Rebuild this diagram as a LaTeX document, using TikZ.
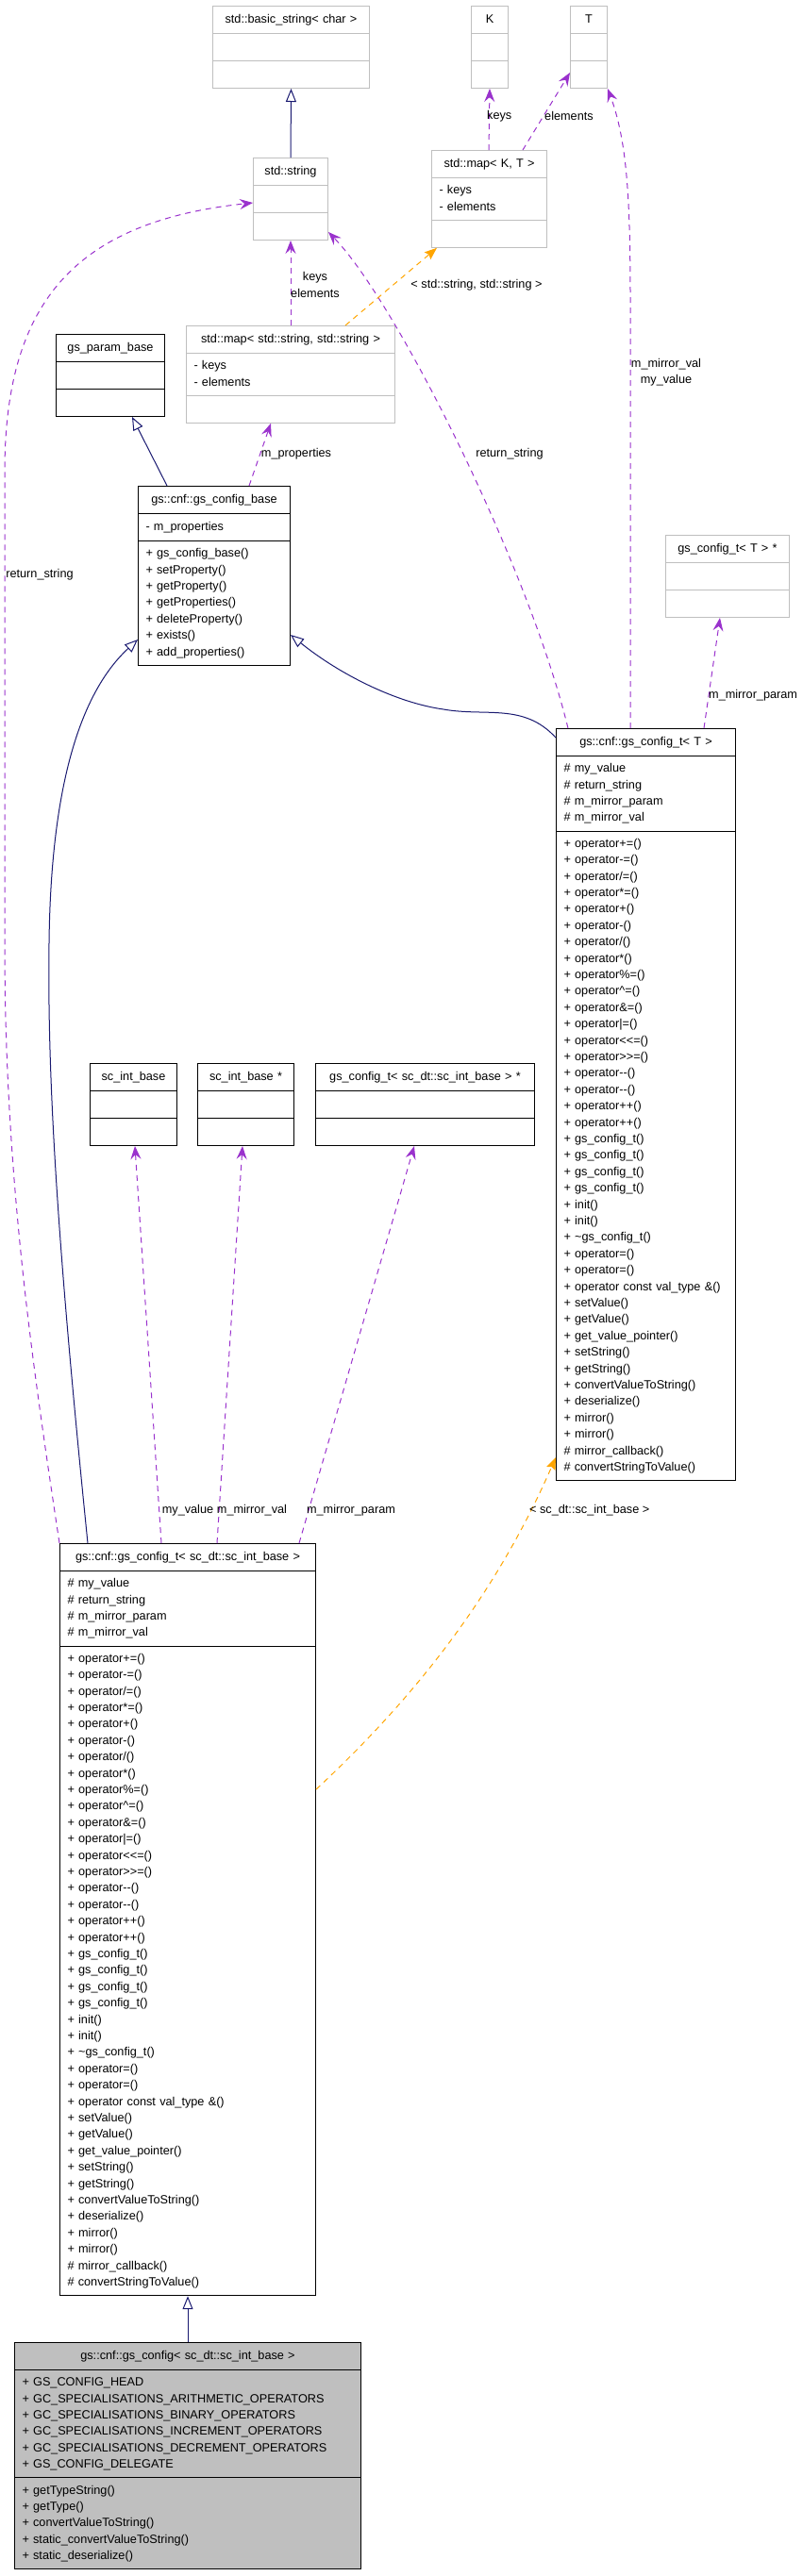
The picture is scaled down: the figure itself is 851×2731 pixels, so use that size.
\documentclass[tikz,border=0pt]{standalone}
\usepackage{fontspec}
\setmainfont{Liberation Sans}
\usetikzlibrary{arrows.meta, shapes.multipart}
\setlength\parindent{0pt}
\definecolor{clsLine}{HTML}{000000}
\definecolor{clsGray}{HTML}{BFBFBF}
\definecolor{clsFill}{HTML}{BFBFBF}
\definecolor{clsBlue}{HTML}{191970}
\definecolor{clsPurple}{HTML}{9A32CD}
\definecolor{clsOrange}{HTML}{FFA500}
\newcommand\clsfont{\fontsize{12.7}{17.4}\selectfont}
\newcommand\ctitle[1]{\makebox[\hsize][c]{\rule[-6.2pt]{0pt}{19pt}#1}}
\newcommand\cempty{\rule{0pt}{19pt}}
% Gemeinsame Member-Liste beider gs_config_t-Klassen.
\newcommand\gsConfigTAttrs{\strut\# my\_value\\
\# return\_string\\
\# m\_mirror\_param\\
\# m\_mirror\_val\strut}
\newcommand\gsConfigTMethods{\strut + operator+=()\\
+ operator-=()\\
+ operator/=()\\
+ operator*=()\\
+ operator+()\\
+ operator-()\\
+ operator/()\\
+ operator*()\\
+ operator\%=()\\
+ operator\textasciicircum=()\\
+ operator\&=()\\
+ operator|=()\\
+ operator<{}<=()\\
+ operator>{}>=()\\
+ operator-{}-()\\
+ operator-{}-()\\
+ operator++()\\
+ operator++()\\
+ gs\_config\_t()\\
+ gs\_config\_t()\\
+ gs\_config\_t()\\
+ gs\_config\_t()\\
+ init()\\
+ init()\\
+ \textasciitilde gs\_config\_t()\\
+ operator=()\\
+ operator=()\\
+ operator const val\_type \&()\\
+ setValue()\\
+ getValue()\\
+ get\_value\_pointer()\\
+ setString()\\
+ getString()\\
+ convertValueToString()\\
+ deserialize()\\
+ mirror()\\
+ mirror()\\
\# mirror\_callback()\\
\# convertStringToValue()\strut}
\tikzset{
  clsfig/.style={
    every node/.append style={font=\clsfont},
    x=1pt, y=-1pt,
  },
  cls/.style={
    rectangle split, rectangle split parts=3, draw=clsLine, line width=1pt,
    fill=white, anchor=north west, align=left, text width=#1,
    inner xsep=8pt, inner ysep=4.5pt,
  },
  % Klassen ohne Dokumentation: hellgrau umrandet.
  extcls/.style={draw=clsGray},
  curcls/.style={fill=clsFill},
  inherit/.style={draw=clsBlue, line width=1pt, -{Triangle[open, length=14pt, width=11pt]}},
  member/.style={draw=clsPurple, line width=1pt, dash pattern=on 6pt off 5pt,
    -{Stealth[length=14pt, width=11pt, inset=5pt]}},
  tmpl/.style={draw=clsOrange, line width=1pt, dash pattern=on 6pt off 5pt,
    -{Stealth[length=13pt, width=10pt, inset=2pt]}},
  edgelabel/.style={inner sep=0pt, align=center},
}
\begin{document}
\begin{tikzpicture}[clsfig]
  \useasboundingbox (0,0) rectangle (851,2731);
  \node[cls=150pt, extcls] (BasicString) at (225,6) {\ctitle{std::basic\_string< char >}\nodepart{two}\cempty\nodepart{three}\cempty};
  \node[cls=23pt, extcls] (KParam) at (499,6) {\ctitle{K}\nodepart{two}\cempty\nodepart{three}\cempty};
  \node[cls=23pt, extcls] (TParam) at (604,6) {\ctitle{T}\nodepart{two}\cempty\nodepart{three}\cempty};
  \node[cls=63pt, extcls] (StdString) at (268,167) {\ctitle{std::string}\nodepart{two}\cempty\nodepart{three}\cempty};
  \node[cls=106pt, extcls] (MapKT) at (457,159) {\ctitle{std::map< K, T >}\nodepart{two}\strut- keys\\- elements\strut\nodepart{three}\cempty};
  \node[cls=99pt] (GsParamBase) at (59,354) {\ctitle{gs\_param\_base}\nodepart{two}\cempty\nodepart{three}\cempty};
  \node[cls=205pt, extcls] (MapStrStr) at (197,345) {\ctitle{std::map< std::string, std::string >}\nodepart{two}\strut- keys\\- elements\strut\nodepart{three}\cempty};
  \node[cls=145pt] (GsConfigBase) at (146,515) {\ctitle{gs::cnf::gs\_config\_base}\nodepart{two}\rule[-6.2pt]{0pt}{19pt}- m\_properties
    \nodepart{three}\strut + gs\_config\_base()\\+ setProperty()\\+ getProperty()\\+ getProperties()\\+ deleteProperty()\\+ exists()\\+ add\_properties()\strut};
  \node[cls=115pt, extcls] (GsConfigTPtr) at (705,567) {\ctitle{gs\_config\_t< T > *}\nodepart{two}\cempty\nodepart{three}\cempty};
  \node[cls=174pt] (GsConfigT) at (589,772) {\ctitle{gs::cnf::gs\_config\_t< T >}\nodepart{two}\gsConfigTAttrs\nodepart{three}\gsConfigTMethods};
  \node[cls=76pt] (ScIntBase) at (95,1127) {\ctitle{sc\_int\_base}\nodepart{two}\cempty\nodepart{three}\cempty};
  \node[cls=86pt] (ScIntBasePtr) at (209,1127) {\ctitle{sc\_int\_base *}\nodepart{two}\cempty\nodepart{three}\cempty};
  \node[cls=216pt] (GsConfigTScPtr) at (334,1127) {\ctitle{gs\_config\_t< sc\_dt::sc\_int\_base > *}\nodepart{two}\cempty\nodepart{three}\cempty};
  \node[cls=255pt] (GsConfigTSc) at (63,1636) {\ctitle{gs::cnf::gs\_config\_t< sc\_dt::sc\_int\_base >}\nodepart{two}\gsConfigTAttrs\nodepart{three}\gsConfigTMethods};
  \node[cls=351pt, curcls] (GsConfig) at (15,2483) {\ctitle{gs::cnf::gs\_config< sc\_dt::sc\_int\_base >}
    \nodepart{two}\strut + GS\_CONFIG\_HEAD\\+ GC\_SPECIALISATIONS\_ARITHMETIC\_OPERATORS\\+ GC\_SPECIALISATIONS\_BINARY\_OPERATORS\\+ GC\_SPECIALISATIONS\_INCREMENT\_OPERATORS\\+ GC\_SPECIALISATIONS\_DECREMENT\_OPERATORS\\+ GS\_CONFIG\_DELEGATE\strut
    \nodepart{three}\strut + getTypeString()\\+ getType()\\+ convertValueToString()\\+ static\_convertValueToString()\\+ static\_deserialize()\strut};
  % Vererbung
  \draw[inherit] (StdString.north) -- (BasicString.south);
  \draw[inherit] ([xshift=31pt]GsConfigBase.north west) -- ([xshift=81pt]GsParamBase.south west);
  \draw[inherit] ([yshift=-10pt]GsConfigT.north west) .. controls (555,745) and (515,760) .. (470,752)
    .. controls (420,745) and (360,715) .. ([yshift=-158pt]GsConfigBase.north east);
  \draw[inherit] ([xshift=30pt]GsConfigTSc.north west) .. controls (62,1330) and (50,1150) .. (52,1000)
    .. controls (54,820) and (90,730) .. ([yshift=-163pt]GsConfigBase.north west);
  \draw[inherit] (GsConfig.north) -- (GsConfigTSc.south);
  % Member-Beziehungen
  \draw[member] (MapStrStr.north) -- (StdString.south);
  \node[edgelabel] (lblStrMap) at (334,302) {keys\\elements};
  \draw[member] ([xshift=61pt]MapKT.north west) -- (KParam.south);
  \node[edgelabel, anchor=west] (lblKeys) at (516,123) {keys};
  \draw[member] ([xshift=97pt]MapKT.north west) -- ([yshift=-71pt]TParam.north west);
  \node[edgelabel, anchor=west] (lblElements) at (577,123) {elements};
  \draw[member] ([xshift=79pt]GsConfigT.north west) -- ++(0,-372)
    .. controls +(0,-150) and +(26,70) .. (TParam.south east);
  \node[edgelabel] (lblMirrorVal) at (706,395) {m\_mirror\_val\\my\_value};
  \draw[member] ([xshift=118pt]GsConfigBase.north west) -- ([xshift=90pt]MapStrStr.south west);
  \node[edgelabel] (lblProps) at (314,481) {m\_properties};
  \draw[member] ([xshift=13pt]GsConfigT.north west) .. controls (560,600) and (420,320) .. ([yshift=-79pt]StdString.north east);
  \node[edgelabel] (lblRetRight) at (540,481) {return\_string};
  \draw[member] ([xshift=157pt]GsConfigT.north west) -- ([xshift=58pt]GsConfigTPtr.south west);
  \node[edgelabel, anchor=west] (lblMirrorParam) at (751,737) {m\_mirror\_param};
  \draw[member] (GsConfigTSc.north west) .. controls (35,1450) and (5,1250) .. (5,1000) -- (5,500)
    .. controls (5,320) and (80,235) .. ([yshift=-48pt]StdString.north west);
  \node[edgelabel] (lblRetLeft) at (42,609) {return\_string};
  \draw[member] ([xshift=108pt]GsConfigTSc.north west) -- ([xshift=48pt]ScIntBase.south west);
  \node[edgelabel] (lblScValue) at (199,1601) {my\_value};
  \draw[member] ([xshift=167pt]GsConfigTSc.north west) -- ([xshift=48pt]ScIntBasePtr.south west);
  \node[edgelabel] (lblScMirrorVal) at (267,1601) {m\_mirror\_val};
  \draw[member] ([xshift=254pt]GsConfigTSc.north west) -- ([xshift=105pt]GsConfigTScPtr.south west);
  \node[edgelabel] (lblScMirrorParam) at (372,1601) {m\_mirror\_param};
  % Template-Instanzen
  \draw[tmpl] ([xshift=169pt]MapStrStr.north west) -- ([xshift=6pt]MapKT.south west);
  \node[edgelabel] (lblStrArgs) at (505,302) {< std::string, std::string >};
  \draw[tmpl] ([yshift=-261pt]GsConfigTSc.north east) .. controls (450,1790) and (530,1680) .. ([yshift=-773pt]GsConfigT.north west);
  \node[edgelabel, anchor=west] (lblScArgs) at (561,1601) {< sc\_dt::sc\_int\_base >};
\end{tikzpicture}
\end{document}
